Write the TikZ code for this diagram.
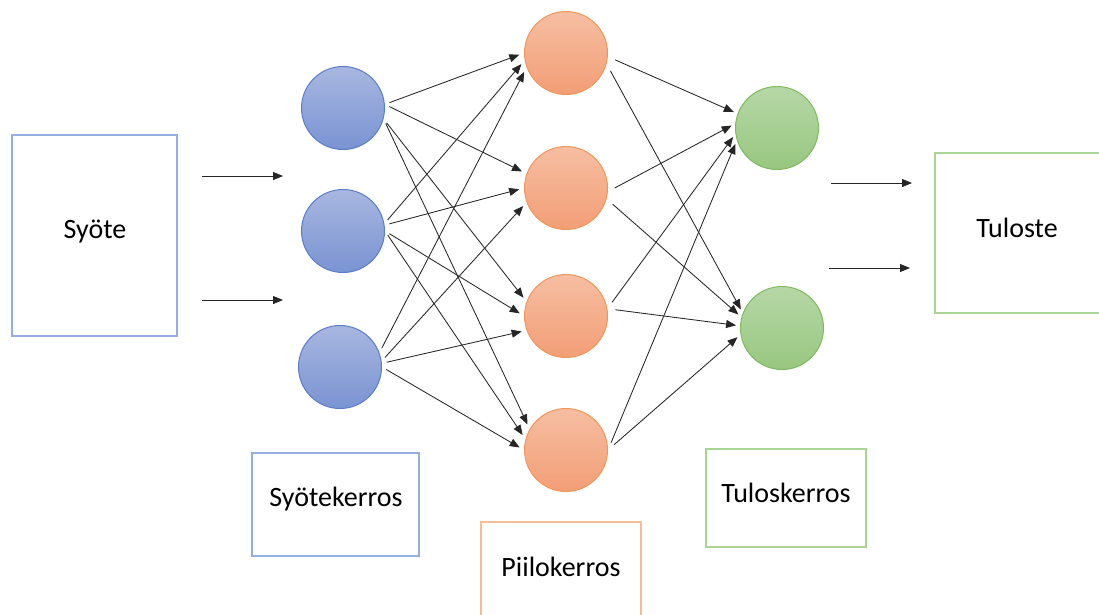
\documentclass[tikz,border=0pt]{standalone}
\usepackage{fontspec}
\setmainfont{Carlito}
\usetikzlibrary{arrows.meta}

\definecolor{sininen}{RGB}{90,125,200}
\definecolor{sininenA}{RGB}{168,183,224}
\definecolor{sininenB}{RGB}{122,147,210}
\definecolor{oranssi}{RGB}{240,150,90}
\definecolor{oranssiA}{RGB}{246,190,162}
\definecolor{oranssiB}{RGB}{242,158,118}
\definecolor{vihrea}{RGB}{125,185,95}
\definecolor{vihreaA}{RGB}{182,215,166}
\definecolor{vihreaB}{RGB}{152,199,128}
\definecolor{laatikkoS}{RGB}{150,175,225}
\definecolor{laatikkoO}{RGB}{246,190,150}
\definecolor{laatikkoV}{RGB}{170,212,150}

\tikzset{
    neuroni/.style={circle, minimum size=83pt, inner sep=0pt, line width=1pt},
    syoteN/.style={neuroni, draw=sininen, top color=sininenA, bottom color=sininenB},
    piiloN/.style={neuroni, draw=oranssi, top color=oranssiA, bottom color=oranssiB},
    tulosN/.style={neuroni, draw=vihrea, top color=vihreaA, bottom color=vihreaB},
    laatikko/.style={rectangle, line width=1.3pt, inner sep=0pt,
        font=\fontsize{28}{32}\selectfont},
    nuoli/.style={line width=0.85pt, draw=black!85, -{Triangle[length=10pt,width=8pt]}},
}

\begin{document}
\begin{tikzpicture}[x=1pt,y=-1pt]
    \useasboundingbox (0,0) rectangle (1099,614);

        % laatikot
    \node[laatikko, draw=laatikkoS, minimum width=165pt, minimum height=201pt] (syote) at (94.5,235.5) {};
    \node[laatikko] at (95,231) {Syöte};
    \node[laatikko, draw=laatikkoV, minimum width=166pt, minimum height=160pt] (tuloste) at (1018,233) {};
    \node[laatikko] at (1017,228) {Tuloste};
    \node[laatikko, draw=laatikkoS, minimum width=167pt, minimum height=103pt] (skerros) at (335.5,504.5) {};
    \node[laatikko] at (336,499) {Syötekerros};
    \node[laatikko, draw=laatikkoO, minimum width=160pt, minimum height=98pt] (pkerros) at (561,571) {};
    \node[laatikko] at (561,567) {Piilokerros};
    \node[laatikko, draw=laatikkoV, minimum width=160pt, minimum height=98pt] (tkerros) at (786,498) {};
    \node[laatikko] at (786,493) {Tuloskerros};

        % neuronit
    \node[syoteN] (i1) at (343,108) {};
    \node[syoteN] (i2) at (343,231) {};
    \node[syoteN] (i3) at (340,367) {};

    \node[piiloN] (h1) at (566,53) {};
    \node[piiloN] (h2) at (566,188) {};
    \node[piiloN] (h3) at (566,316) {};
    \node[piiloN] (h4) at (566,450) {};

    \node[tulosN] (o1) at (777,128) {};
    \node[tulosN] (o2) at (782,328) {};

        % nuolet sisään ja ulos
    \coordinate (s1) at (202,176);  \coordinate (s1b) at (283,176);
    \coordinate (s2) at (202,300);  \coordinate (s2b) at (283,300);
    \coordinate (t1) at (831,183);  \coordinate (t1b) at (912,183);
    \coordinate (t2) at (829,268);  \coordinate (t2b) at (910,268);
    \draw[nuoli] (s1) -- (s1b);
    \draw[nuoli] (s2) -- (s2b);
    \draw[nuoli] (t1) -- (t1b);
    \draw[nuoli] (t2) -- (t2b);

        % syötekerros -> piilokerros
    \foreach \a/\b/\c/\d in {i1/5/h1/180, i1/5/h2/160, i1/345/h3/160, i1/345/h4/150,
                             i2/10/h1/190, i2/8/h2/180, i2/0/h3/180, i2/0/h4/165,
                             i3/20/h1/200, i3/8/h2/200, i3/5/h3/200, i3/0/h4/180}
        \draw[nuoli, shorten <=5pt, shorten >=5pt] (\a.\b) -- (\c.\d);

        % piilokerros -> tuloskerros
    \foreach \a/\b/\c/\d in {h1/355/o1/160, h1/345/o2/159, h2/355/o1/174, h2/345/o2/165,
                             h3/10/o1/188, h3/10/o2/177, h4/0/o1/197, h4/0/o2/189}
        \draw[nuoli, shorten <=8pt, shorten >=4pt] (\a.\b) -- (\c.\d);
\end{tikzpicture}
\end{document}
